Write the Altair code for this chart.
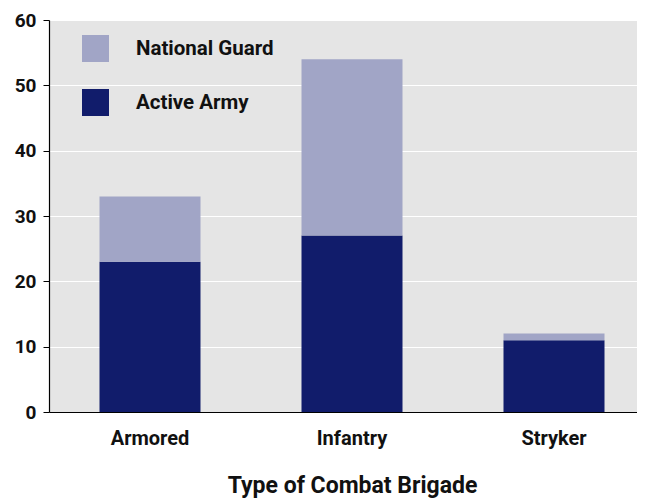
import altair as alt
import pandas as pd

categories = ["Armored", "Infantry", "Stryker"]
active_army = [23, 27, 11]
national_guard = [10, 27, 1]
series = ["National Guard", "Active Army"]
colors = ["#a1a5c6", "#111c6b"]

rows = []
for c, a, g in zip(categories, active_army, national_guard):
    rows.append({"brigade": c, "component": "Active Army", "count": a, "ord": 0})
    rows.append({"brigade": c, "component": "National Guard", "count": g, "ord": 1})
df = pd.DataFrame(rows)

FONT = "Roboto"

chart = alt.Chart(df).mark_bar().encode(
    x=alt.X("brigade:N", sort=categories,
            scale=alt.Scale(range=[0, 606], paddingInner=0.5, paddingOuter=0.25),
            axis=alt.Axis(title="Type of Combat Brigade", labelAngle=0, ticks=False,
                          labelFontSize=20, labelPadding=16, titlePadding=26, grid=False)),
    y=alt.Y("count:Q", stack="zero",
            scale=alt.Scale(domain=[0, 60], nice=False),
            axis=alt.Axis(title=None, values=[0, 10, 20, 30, 40, 50, 60], tickSize=6,
                          labelFontSize=19, labelPadding=7, grid=True,
                          gridColor="#ffffff", gridWidth=1)),
    color=alt.Color("component:N", scale=alt.Scale(domain=series, range=colors),
                    legend=alt.Legend(title=None, orient="none", legendX=33, legendY=15,
                                      symbolType="square", symbolSize=729, symbolStrokeWidth=0,
                                      symbolOpacity=1, rowPadding=27, labelOffset=27,
                                      labelFontSize=20.5, labelFont=FONT, labelFontWeight="bold",
                                      labelColor="#111111")),
    order=alt.Order("ord:Q"),
).properties(
    width=588, height=392,
    autosize=alt.AutoSizeParams(type="none"),
    padding={"left": 41, "top": 12, "right": 0, "bottom": 92},
).configure_view(
    fill="#e5e5e5", stroke=None
).configure_axis(
    domainColor="#000000", tickColor="#000000", domainWidth=1.2,
    labelFont=FONT, labelFontWeight="bold", labelColor="#111111",
    titleFont=FONT, titleFontWeight="bold", titleFontSize=23, titleColor="#111111",
)

chart.save("out.html", embed_options={"renderer": "svg", "actions": False})
